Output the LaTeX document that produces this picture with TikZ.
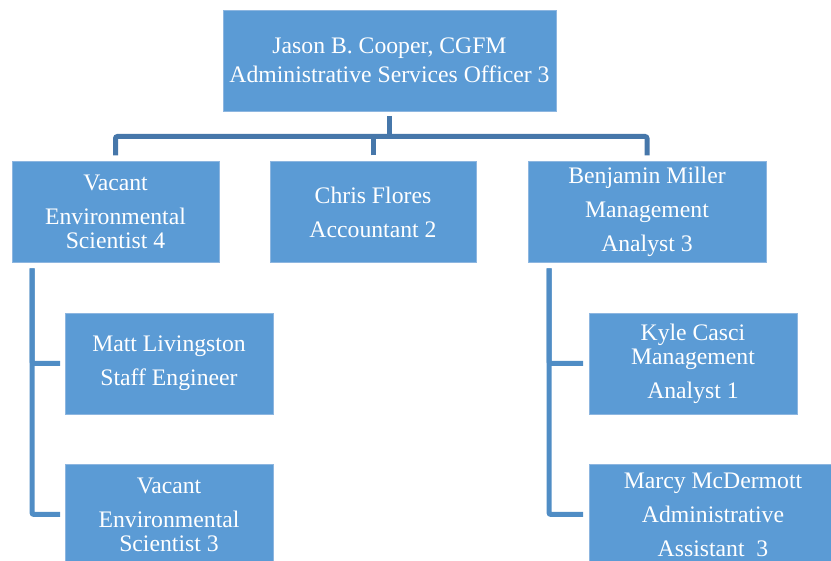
\documentclass[tikz,border=0pt]{standalone}
\usepackage{fontspec}
\setmainfont{Liberation Serif}
\usepackage{tikz}
\definecolor{boxblue}{HTML}{5B9BD5}
\definecolor{boxedge}{HTML}{8DB6E0}
\definecolor{trunkblue}{HTML}{4677AA}
\definecolor{branchblue}{HTML}{508DC5}
\tikzset{
    post/.style={draw=boxedge, line width=0.8pt, fill=boxblue, text=white,
        align=center, inner sep=0pt, outer sep=0pt, minimum height=101pt,
        font=\fontsize{23.7}{34}\selectfont},
    trunk/.style={draw=trunkblue, line width=5pt, rounded corners=2pt},
    branch/.style={draw=branchblue, line width=5pt, rounded corners=2pt},
}

\begin{document}
\begin{tikzpicture}[x=1pt,y=-1pt]
\useasboundingbox (0,0) rectangle (831,561);
\clip (0,0) rectangle (831,561);
\node[post, minimum width=333pt] (boss) at (389.5,60.5) {Jason B. Cooper, CGFM\\[-5pt]Administrative Services Officer 3};
\node[post, minimum width=207pt] (env4) at (115.5,212) {Vacant\\Environmental\\[-10pt]Scientist 4};
\node[post, minimum width=206pt] (acct) at (373,212) {Chris Flores\\Accountant 2};
\node[post, minimum width=238pt] (mgr3) at (647,212) {Benjamin Miller\\Management\\Analyst 3};
\node[post, minimum width=208pt] (eng) at (169,363.5) {Matt Livingston\\Staff Engineer};
\node[post, minimum width=208pt] (env3) at (169,514.5) {Vacant\\Environmental\\[-10pt]Scientist 3};
\node[post, minimum width=208pt] (kyle) at (693,363.5) {Kyle Casci\\[-10pt]Management\\Analyst 1};
\node[post, minimum width=248pt] (marcy) at (713,514.5) {Marcy McDermott\\Administrative\\Assistant\ \ 3};
\coordinate (bus) at (389.5,136.5);
\draw[trunk] ([yshift=-5pt]boss.south) -- (bus);
\draw[trunk] ([yshift=6pt]env4.north) |- (bus) -| ([yshift=6pt]mgr3.north);
\draw[trunk] ([yshift=6pt]acct.north) -- (acct.north |- bus);
\draw[branch] ([shift={(20pt,-6pt)}]env4.south west) |- ([xshift=-5pt]eng.west);
\draw[branch] ([shift={(20pt,-6pt)}]env4.south west) |- ([xshift=-5pt]env3.west);
\draw[branch] ([shift={(21pt,-6pt)}]mgr3.south west) |- ([xshift=-6pt]kyle.west);
\draw[branch] ([shift={(21pt,-6pt)}]mgr3.south west) |- ([xshift=-6pt]marcy.west);
\end{tikzpicture}
\end{document}
